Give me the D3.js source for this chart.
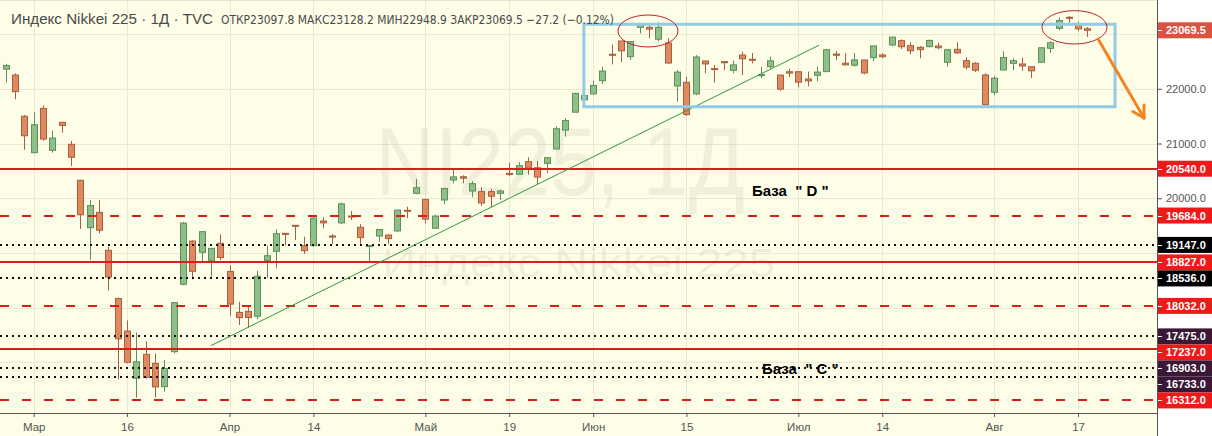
<!DOCTYPE html>
<html><head><meta charset="utf-8">
<script src="https://cdn.jsdelivr.net/npm/d3@7"></script>
<style>
body{margin:0;background:#fff;}
svg{display:block;font-family:"Liberation Sans",Arial,sans-serif;}
</style>
</head><body>
<svg id="c" width="1212" height="436"></svg>
<script>
// ---------------- DATA ----------------
const dates = ["2020-02-26","2020-02-27","2020-02-28","2020-03-02","2020-03-03","2020-03-04","2020-03-05","2020-03-06","2020-03-09","2020-03-10","2020-03-11","2020-03-12","2020-03-13","2020-03-16","2020-03-17","2020-03-18","2020-03-19","2020-03-23","2020-03-24","2020-03-25","2020-03-26","2020-03-27","2020-03-30","2020-03-31","2020-04-01","2020-04-02","2020-04-03","2020-04-06","2020-04-07","2020-04-08","2020-04-09","2020-04-10","2020-04-13","2020-04-14","2020-04-15","2020-04-16","2020-04-17","2020-04-20","2020-04-21","2020-04-22","2020-04-23","2020-04-24","2020-04-27","2020-04-28","2020-04-30","2020-05-01","2020-05-07","2020-05-08","2020-05-11","2020-05-12","2020-05-13","2020-05-14","2020-05-15","2020-05-18","2020-05-19","2020-05-20","2020-05-21","2020-05-22","2020-05-25","2020-05-26","2020-05-27","2020-05-28","2020-05-29","2020-06-01","2020-06-02","2020-06-03","2020-06-04","2020-06-05","2020-06-08","2020-06-09","2020-06-10","2020-06-11","2020-06-12","2020-06-15","2020-06-16","2020-06-17","2020-06-18","2020-06-19","2020-06-22","2020-06-23","2020-06-24","2020-06-25","2020-06-26","2020-06-29","2020-06-30","2020-07-01","2020-07-02","2020-07-03","2020-07-06","2020-07-07","2020-07-08","2020-07-09","2020-07-10","2020-07-13","2020-07-14","2020-07-15","2020-07-16","2020-07-17","2020-07-20","2020-07-21","2020-07-22","2020-07-27","2020-07-28","2020-07-29","2020-07-30","2020-07-31","2020-08-03","2020-08-04","2020-08-05","2020-08-06","2020-08-07","2020-08-11","2020-08-12","2020-08-13","2020-08-14","2020-08-17","2020-08-18"];

const open = [22360,22252,21498,20833,21642,20876,21388,20986,20327,19462,
19742,19048,18169,17572,16710,17147,16982,16556,17196,18427,
19217,19012,18865,19176,18663,17914,17933,17844,18865,19030,
19358,19505,19132,19134,19584,19310,19551,19675,19468,19120,
19310,19328,19403,19780,20090,19980,19451,19968,20334,20394,
20132,20121,20121,20090,20455,20438,20668,20558,20638,20900,
21247,21573,21800,21908,22149,22631,22874,22587,23124,23124,
22906,22837,22051,22118,21906,22508,22370,22497,22338,22618,
22540,22240,22405,22251,22313,22312,22180,22248,22314,22635,
22467,22431,22527,22570,22619,22801,22880,22789,22759,22771,
22783,22485,22722,22515,22467,22253,21937,22345,22466,22454,
22404,22486,22740,23105,23307,23172,23097.8];

const high = [22455,22283,21521,21575,21697,21233,21399,21046,20340,19966,
19966,19113,18180,17767,17547,17389,17164,17042,18100,19564,
19235,19389,19084,19340,18772,18108,18042,18674,19138,19436,
19360,19510,19296,19660,19652,19346,19922,19766,19528,19140,
19431,19340,19790,19845,20351,19990,19700,20180,20529,20420,
20310,20200,20170,20160,20649,20660,20750,20680,20741,21310,
21460,21930,21880,22151,22404,22813,22880,22870,23185,23160,
23218,22923,22343,22220,22617,22510,22435,22500,22516,22678,
22654,22404,22587,22251,22366,22320,22316,22404,22727,22687,
22654,22654,22527,22788,22648,22950,22903,22850,22783,22903,
22843,22727,22850,22577,22487,22285,22235,22687,22557,22569,
22404,22752,22868,23306,23331,23226,23128.2];

const low = [22115,21809,20884,20822,21050,20833,21199,20591,19440,18874,
19360,18312,16690,16984,16358,16700,16358,16465,17167,18410,
18519,18841,18567,18870,17849,17683,17641,17789,18538,18721,
19140,19233,18981,19115,19451,19164,19527,19602,19164,18830,
19206,19159,19390,19634,20072,19543,19451,19890,20273,20273,
20020,19860,19836,19968,20412,20438,20430,20260,20460,20890,
21125,21573,21760,21895,22089,22447,22486,22527,23013,22924,
22869,22455,21766,21504,21886,22283,22113,22339,22286,22253,
22467,22198,22367,21966,22216,22027,22046,22136,22314,22527,
22431,22407,22267,22508,22558,22778,22728,22632,22558,22760,
22723,22405,22638,22357,22307,21685,21885,22345,22339,22327,
22198,22486,22655,23069,23210,23059,22948.9];

const close = [22426,21948,21142,21344,21082,21100,21329,20749,19698,19867,
19416,18559,17431,17002,17011,16726,16552,16887,18092,19546,
18665,19389,19084,18917,18065,17818,17820,18576,18950,19353,
19345,19498,19043,19638,19550,19290,19897,19669,19280,19137,
19429,19262,19783,19771,20193,19619,19674,20179,20390,20366,
20267,19914,20037,20133,20433,20595,20552,20388,20741,21271,
21419,21916,21877,22062,22325,22613,22695,22864,23178,23091,
23124,22472,22305,21530,22582,22455,22355,22478,22437,22549,
22534,22259,22512,21995,22288,22122,22145,22306,22714,22614,
22438,22529,22290,22784,22587,22945,22770,22696,22717,22884,
22751,22715,22657,22397,22339,21710,22195,22573,22514,22418,
22329,22750,22843,23249,23289,23096,23069.5];

const tickDates  = ["2020-03-02","2020-03-16","2020-04-01","2020-04-14","2020-05-01","2020-05-19","2020-06-01","2020-06-15","2020-07-01","2020-07-14","2020-08-03","2020-08-17"];
const tickLabels = ["Мар","16","Апр","14","Май","19","Июн","15","Июл","14","Авг","17"];
const priceTicks = [17000,18000,19000,20000,21000,22000,23000];

// horizontal levels drawn on the chart
const levelValues = [20540,19684,19147,18827,18536,18032,17475,17237,16903,16733,16312];
const levelKinds  = ["solid","dashed","dotted","solid","dotted","dashed","dottedP","solid","dottedP","dottedP","dashed"];

const lastPrice = 23069.5;
const headerTitle = "Индекс Nikkei 225 · 1Д · TVC";
const headerOHLC  = "ОТКР23097.8 МАКС23128.2 МИН22948.9 ЗАКР23069.5 −27.2 (−0.12%)";

// drawings (bar index, price)
const trendLine = [[22.0,17305],[87.2,22795]];
const boxRange  = [[62.0,23180],[118.97,21673]];
const ellipses  = [[68.88,23057,3.22,292],[114.62,23124,3.49,305]];
const arrowPts  = [[117.15,22911],[122.08,21467]];
const baseTexts = ["База  \" D \"","База  \" C \""];
const basePts   = [[80.04,20041],[81.11,16787]];

// ---------------- LAYOUT ----------------
const W=1212,H=436,PW=1157,PH=413;
const svg=d3.select("#c");
svg.append("rect").attr("width",W).attr("height",H).attr("fill","#ffffff");
svg.append("rect").attr("width",PW).attr("height",H).attr("fill","#fdfde8");

const x=d3.scaleLinear().domain([-0.614,123.47]).range([0,PW]);
const y=d3.scaleLinear().domain([16075,23623.5]).range([PH,0]);
const tickIdx=tickDates.map(d=>dates.indexOf(d));

// grid
const grid=svg.append("g");
grid.selectAll("line.v").data(tickIdx).join("line")
  .attr("x1",d=>Math.round(x(d))+0.5).attr("x2",d=>Math.round(x(d))+0.5)
  .attr("y1",0).attr("y2",PH).attr("stroke","#ebe9d2").attr("stroke-width",1);
grid.selectAll("line.h").data(priceTicks).join("line")
  .attr("x1",0).attr("x2",PW)
  .attr("y1",d=>Math.round(y(d))+0.5).attr("y2",d=>Math.round(y(d))+0.5)
  .attr("stroke","#ebe9d2").attr("stroke-width",1);

// watermark
svg.append("text").attr("x",375).attr("y",195).attr("font-size",97)
  .attr("textLength",370).attr("lengthAdjust","spacingAndGlyphs")
  .attr("fill","#6b6b50").attr("fill-opacity",0.09).text("NI225, 1Д");
svg.append("text").attr("x",382).attr("y",277).attr("font-size",40)
  .attr("textLength",393).attr("lengthAdjust","spacingAndGlyphs")
  .attr("fill","#6b6b50").attr("fill-opacity",0.09).text("Индекс Nikkei 225");

// candles
const UP_F="#8fbf88",UP_S="#5e8f5a",DN_F="#e0895e",DN_S="#a65f3f";
const bars=d3.range(dates.length);
const cg=svg.append("g");
cg.selectAll("line").data(bars).join("line")
  .attr("x1",i=>Math.round(x(i))+0.5).attr("x2",i=>Math.round(x(i))+0.5)
  .attr("y1",i=>y(high[i])).attr("y2",i=>y(low[i]))
  .attr("stroke",i=>close[i]>=open[i]?UP_S:DN_S).attr("stroke-width",1);
cg.selectAll("rect").data(bars).join("rect")
  .attr("x",i=>Math.round(x(i))-2.5).attr("width",6)
  .attr("y",i=>y(Math.max(open[i],close[i])))
  .attr("height",i=>Math.max(1,Math.abs(y(open[i])-y(close[i]))))
  .attr("fill",i=>close[i]>=open[i]?UP_F:DN_F)
  .attr("stroke",i=>close[i]>=open[i]?UP_S:DN_S).attr("stroke-width",1);

// levels
const RED="#dd1c1c",BLK="#111111",PUR="#3b1836";
const kindStyle={
  solid:{c:RED,w:2,dash:null,box:"#ee1a1a"},
  dashed:{c:RED,w:2,dash:"9,13",box:"#ee1a1a"},
  dotted:{c:BLK,w:2,dash:"2,4",box:"#000000"},
  dottedP:{c:"#1a0d18",w:2,dash:"2,4",box:PUR}
};
svg.append("g").selectAll("line").data(levelValues).join("line")
  .attr("x1",0).attr("x2",PW)
  .attr("y1",d=>Math.round(y(d))).attr("y2",d=>Math.round(y(d)))
  .attr("stroke",(d,i)=>kindStyle[levelKinds[i]].c)
  .attr("stroke-width",(d,i)=>kindStyle[levelKinds[i]].w)
  .attr("stroke-dasharray",(d,i)=>kindStyle[levelKinds[i]].dash);

// trend line
svg.append("line")
  .attr("x1",x(trendLine[0][0])).attr("y1",y(trendLine[0][1]))
  .attr("x2",x(trendLine[1][0])).attr("y2",y(trendLine[1][1]))
  .attr("stroke","#2f9a3c").attr("stroke-width",1);

// rectangle
svg.append("rect")
  .attr("x",x(boxRange[0][0])).attr("y",y(boxRange[0][1]))
  .attr("width",x(boxRange[1][0])-x(boxRange[0][0]))
  .attr("height",y(boxRange[1][1])-y(boxRange[0][1]))
  .attr("fill","none").attr("stroke","#92cce4").attr("stroke-width",3);

// ellipses
svg.append("g").selectAll("ellipse").data(ellipses).join("ellipse")
  .attr("cx",d=>x(d[0])).attr("cy",d=>y(d[1]))
  .attr("rx",d=>x(d[0]+d[2])-x(d[0])).attr("ry",d=>y(d[1]-d[3])-y(d[1]))
  .attr("fill","none").attr("stroke","#b8232b").attr("stroke-width",1);

// arrow
const ax1=x(arrowPts[0][0]),ay1=y(arrowPts[0][1]),ax2=x(arrowPts[1][0]),ay2=y(arrowPts[1][1]);
const ang=Math.atan2(ay1-ay2,ax1-ax2),al=13;
const ORG="#f5841f";
svg.append("line").attr("x1",ax1).attr("y1",ay1).attr("x2",ax2).attr("y2",ay2)
  .attr("stroke",ORG).attr("stroke-width",3).attr("stroke-linecap","round");
[ang-Math.PI/6,ang+Math.PI/6].forEach(a=>{
  svg.append("line").attr("x1",ax2).attr("y1",ay2)
    .attr("x2",ax2+al*Math.cos(a)).attr("y2",ay2+al*Math.sin(a))
    .attr("stroke",ORG).attr("stroke-width",3).attr("stroke-linecap","round");
});

// base labels
svg.append("g").selectAll("text").data(baseTexts).join("text")
  .attr("x",(d,i)=>x(basePts[i][0])).attr("y",(d,i)=>y(basePts[i][1]))
  .attr("font-size",15).attr("font-weight","bold").attr("fill","#000")
  .style("white-space","pre").attr("xml:space","preserve").text(d=>d);

// header
svg.append("text").attr("x",11).attr("y",24).attr("font-size",14.5).attr("fill","#4a4a4a")
  .attr("textLength",202).attr("lengthAdjust","spacingAndGlyphs").text(headerTitle);
svg.append("text").attr("x",221).attr("y",24).attr("font-size",12.5).attr("fill","#4a4a4a")
  .attr("font-family","DejaVu Sans, Verdana, sans-serif")
  .attr("textLength",393).attr("lengthAdjust","spacingAndGlyphs").text(headerOHLC);
svg.append("line").attr("x1",0).attr("x2",PW).attr("y1",0.5).attr("y2",0.5).attr("stroke","#e3e3d6");

// bottom axis
const xAxis=d3.axisBottom(x).tickValues(tickIdx).tickFormat((d,k)=>tickLabels[k])
  .tickSizeInner(4).tickSizeOuter(0).tickPadding(6);
const gx=svg.append("g").attr("transform",`translate(0,${PH})`).call(xAxis);
gx.select(".domain").attr("stroke","#555").attr("d",`M0,0.5H${PW}`);
gx.selectAll(".tick line").attr("stroke","#555");
gx.selectAll(".tick text").attr("fill","#555").attr("font-size",11.5).attr("font-family","Liberation Sans, Arial, sans-serif");

// label boxes (level labels + last price) with collision avoidance
const boxes=levelValues.map((v,i)=>({v,c:kindStyle[levelKinds[i]].box}));
boxes.push({v:lastPrice,c:"#dc5242"});
boxes.forEach(b=>b.ly=y(b.v));
boxes.sort((a,b)=>a.ly-b.ly);
for(let k=1;k<boxes.length;k++){ if(boxes[k].ly<boxes[k-1].ly+16) boxes[k].ly=boxes[k-1].ly+16; }

// right axis
const yAxis=d3.axisRight(y).tickValues(priceTicks.filter(t=>boxes.every(b=>Math.abs(b.ly-y(t))>13)))
  .tickFormat(d3.format(".1f")).tickSizeInner(5).tickSizeOuter(0).tickPadding(4);
const gy=svg.append("g").attr("transform",`translate(${PW},0)`).call(yAxis);
gy.select(".domain").remove();
gy.selectAll(".tick line").attr("stroke","#555");
gy.selectAll(".tick text").attr("fill","#555").attr("font-size",11).attr("font-family","Liberation Sans, Arial, sans-serif");
svg.append("line").attr("x1",PW+0.5).attr("x2",PW+0.5).attr("y1",0).attr("y2",H).attr("stroke","#555");

const lb=svg.append("g").selectAll("g").data(boxes).join("g");
lb.append("rect").attr("x",PW+1).attr("y",d=>d.ly-8).attr("width",W-PW-1).attr("height",16).attr("fill",d=>d.c);
lb.append("line").attr("x1",PW+1).attr("x2",PW+5).attr("y1",d=>Math.round(d.ly)+0.5).attr("y2",d=>Math.round(d.ly)+0.5).attr("stroke","#fff");
lb.append("text").attr("x",PW+9).attr("y",d=>d.ly+4).attr("font-size",11).attr("font-weight","bold")
  .attr("fill","#fff").text(d=>d3.format(".1f")(d.v));
</script>
</body></html>
